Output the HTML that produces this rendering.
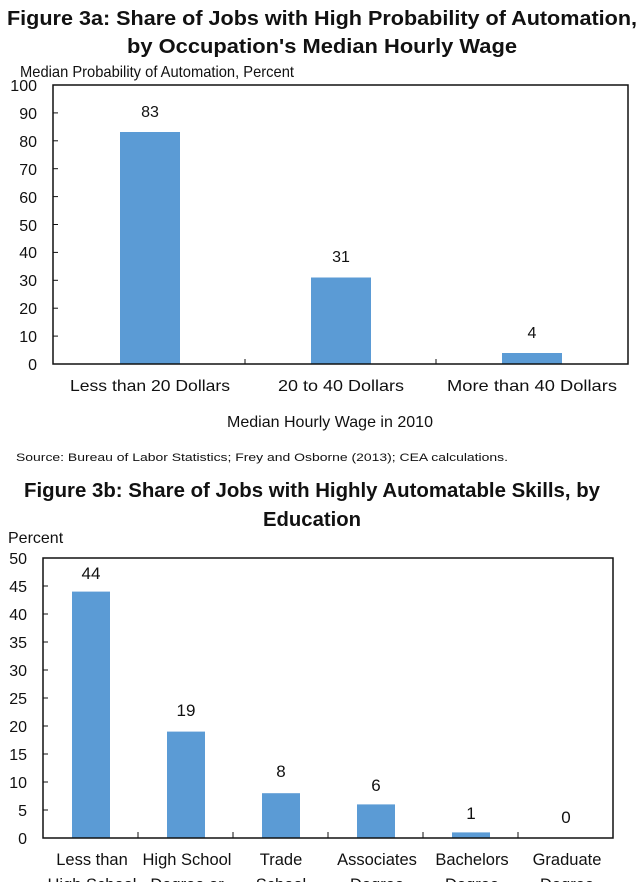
<!DOCTYPE html>
<html><head><meta charset="utf-8"><style>
body{margin:0;background:#fff}
text{font-family:"Liberation Sans",sans-serif;fill:#111}
</style></head><body>
<svg width="640" height="882" viewBox="0 0 640 882" xmlns="http://www.w3.org/2000/svg">
<g font-weight="bold" font-size="20" text-anchor="middle">
<text x="322" y="25" textLength="630" lengthAdjust="spacingAndGlyphs">Figure 3a: Share of Jobs with High Probability of Automation,</text>
<text x="322" y="53" textLength="390" lengthAdjust="spacingAndGlyphs">by Occupation's Median Hourly Wage</text>
<text x="312" y="497" textLength="576" lengthAdjust="spacingAndGlyphs">Figure 3b: Share of Jobs with Highly Automatable Skills, by</text>
<text x="312" y="526" textLength="98" lengthAdjust="spacingAndGlyphs">Education</text>
</g>
<text x="20" y="77" font-size="16" textLength="274" lengthAdjust="spacingAndGlyphs">Median Probability of Automation, Percent</text>
<g fill="#5b9bd5">
<rect x="120" y="132" width="60" height="232"/>
<rect x="311" y="277.5" width="60" height="86.5"/>
<rect x="502" y="353" width="60" height="11"/>
</g>
<rect x="53" y="85" width="575" height="279" fill="none" stroke="#111" stroke-width="1.5"/>
<g stroke="#111" stroke-width="1">
<line x1="245" y1="359" x2="245" y2="364"/><line x1="436" y1="359" x2="436" y2="364"/>
<line x1="53" y1="336.1" x2="58" y2="336.1"/><line x1="53" y1="308.2" x2="58" y2="308.2"/><line x1="53" y1="280.3" x2="58" y2="280.3"/><line x1="53" y1="252.4" x2="58" y2="252.4"/><line x1="53" y1="224.5" x2="58" y2="224.5"/><line x1="53" y1="196.6" x2="58" y2="196.6"/><line x1="53" y1="168.7" x2="58" y2="168.7"/><line x1="53" y1="140.8" x2="58" y2="140.8"/><line x1="53" y1="112.9" x2="58" y2="112.9"/>
</g>
<g font-size="16" text-anchor="end">
<text x="37" y="370">0</text><text x="37" y="342">10</text><text x="37" y="314">20</text><text x="37" y="286">30</text><text x="37" y="258">40</text><text x="37" y="231">50</text><text x="37" y="203">60</text><text x="37" y="175">70</text><text x="37" y="147">80</text><text x="37" y="119">90</text><text x="37" y="91">100</text>
</g>
<g font-size="16" text-anchor="middle">
<text x="150" y="117">83</text><text x="341" y="262">31</text><text x="532" y="338">4</text>
<text x="150" y="391" textLength="160" lengthAdjust="spacingAndGlyphs">Less than 20 Dollars</text>
<text x="341" y="391" textLength="126" lengthAdjust="spacingAndGlyphs">20 to 40 Dollars</text>
<text x="532" y="391" textLength="170" lengthAdjust="spacingAndGlyphs">More than 40 Dollars</text>
<text x="330" y="427" textLength="206" lengthAdjust="spacingAndGlyphs">Median Hourly Wage in 2010</text>
</g>
<text x="16" y="461" font-size="11" textLength="492" lengthAdjust="spacingAndGlyphs">Source: Bureau of Labor Statistics; Frey and Osborne (2013); CEA calculations.</text>
<text x="8" y="543" font-size="16">Percent</text>
<g fill="#5b9bd5">
<rect x="72" y="591.6" width="38" height="246.4"/>
<rect x="167" y="731.6" width="38" height="106.4"/>
<rect x="262" y="793.2" width="38" height="44.8"/>
<rect x="357" y="804.4" width="38" height="33.6"/>
<rect x="452" y="832.4" width="38" height="5.6"/>
</g>
<rect x="43" y="558" width="570" height="280" fill="none" stroke="#111" stroke-width="1.5"/>
<g stroke="#111" stroke-width="1">
<line x1="138" y1="832" x2="138" y2="838"/><line x1="233" y1="832" x2="233" y2="838"/><line x1="328" y1="832" x2="328" y2="838"/><line x1="423" y1="832" x2="423" y2="838"/><line x1="518" y1="832" x2="518" y2="838"/>
<line x1="43" y1="810" x2="48" y2="810"/><line x1="43" y1="782" x2="48" y2="782"/><line x1="43" y1="754" x2="48" y2="754"/><line x1="43" y1="726" x2="48" y2="726"/><line x1="43" y1="698" x2="48" y2="698"/><line x1="43" y1="670" x2="48" y2="670"/><line x1="43" y1="642" x2="48" y2="642"/><line x1="43" y1="614" x2="48" y2="614"/><line x1="43" y1="586" x2="48" y2="586"/>
</g>
<g font-size="16" text-anchor="end">
<text x="27" y="844">0</text><text x="27" y="816">5</text><text x="27" y="788">10</text><text x="27" y="760">15</text><text x="27" y="732">20</text><text x="27" y="704">25</text><text x="27" y="676">30</text><text x="27" y="648">35</text><text x="27" y="620">40</text><text x="27" y="592">45</text><text x="27" y="564">50</text>
</g>
<g font-size="17" text-anchor="middle">
<text x="91" y="579">44</text><text x="186" y="716">19</text><text x="281" y="777">8</text><text x="376" y="791">6</text><text x="471" y="819">1</text><text x="566" y="823">0</text>
</g>
<g font-size="16.5" text-anchor="middle">
<text x="92" y="865">Less than</text><text x="187" y="865">High School</text><text x="281" y="865">Trade</text><text x="377" y="865">Associates</text><text x="472" y="865">Bachelors</text><text x="567" y="865">Graduate</text>
<text x="92" y="890">High School</text><text x="187" y="890">Degree or</text><text x="281" y="890">School</text><text x="377" y="890">Degree</text><text x="472" y="890">Degree</text><text x="567" y="890">Degree</text>
</g>
</svg>
</body></html>
